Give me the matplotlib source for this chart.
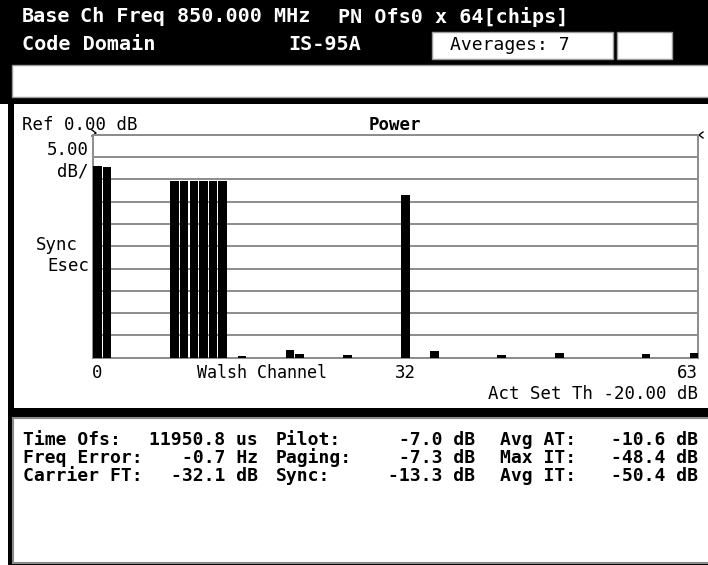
import matplotlib
matplotlib.use("Agg")
import matplotlib.pyplot as plt
from matplotlib.patches import Rectangle
import numpy as np

# ---- data ----
channels = [0, 1, 8, 9, 10, 11, 12, 13, 15, 20, 21, 26, 32, 35, 42, 48, 57, 62]
power_db = [-7.0, -7.3, -10.4, -10.4, -10.4, -10.4, -10.4, -10.4,
            -49.6, -48.3, -49.2, -49.5, -13.5, -48.5, -49.4, -48.9, -49.2, -48.9]
floor_db = -50.0
top_db = 0.0
db_per_div = 5.0
xtick_pos = [0, 32]
xtick_lbl = ["0", "32"]

header1 = ["Base", "Ch Freq 850.000 MHz", "PN Ofs0 x 64[chips]"]
header2 = ["Code Domain", "IS-95A"]
averages_txt = "Averages: 7"

rows_c1 = [("Time Ofs:", "11950.8 us"), ("Freq Error:", "-0.7 Hz"), ("Carrier FT:", "-32.1 dB")]
rows_c2 = [("Pilot:", "-7.0 dB"), ("Paging:", "-7.3 dB"), ("Sync:", "-13.3 dB")]
rows_c3 = [("Avg AT:", "-10.6 dB"), ("Max IT:", "-48.4 dB"), ("Avg IT:", "-50.4 dB")]

W, H = 708, 565
MONO = "DejaVu Sans Mono"

fig = plt.figure(figsize=(W / 100, H / 100), dpi=100)
fig.patch.set_facecolor("white")

bg = fig.add_axes([0, 0, 1, 1])
bg.set_xlim(0, W)
bg.set_ylim(H, 0)
bg.axis("off")

def rect(x0, y0, x1, y1, fc, ec="none", lw=0):
    bg.add_patch(Rectangle((x0, y0), x1 - x0, y1 - y0, facecolor=fc, edgecolor=ec, linewidth=lw))

# frame
rect(0, 0, W, 104, "black")
rect(8, 104, W, H, "black")
rect(12, 65, W + 2, 97, "white", "#9a9a9a", 1)
rect(14, 104, W + 2, 408, "white")
rect(13, 418, W + 2, 563, "white", "#8a8a8a", 1.5)
rect(432, 32, 613, 59, "white", "#9a9a9a", 1)
rect(617, 32, 672, 59, "white", "#9a9a9a", 1)

# header text
HFS = 14.5
bg.text(22, 17, header1[0], color="white", fontsize=HFS, fontweight="bold", family=MONO, va="center", ha="left")
bg.text(80, 17, header1[1], color="white", fontsize=HFS, fontweight="bold", family=MONO, va="center", ha="left")
bg.text(338, 17, header1[2], color="white", fontsize=HFS, fontweight="bold", family=MONO, va="center", ha="left")
bg.text(22, 45, header2[0], color="white", fontsize=HFS, fontweight="bold", family=MONO, va="center", ha="left")
bg.text(325, 45, header2[1], color="white", fontsize=HFS, fontweight="bold", family=MONO, va="center", ha="center")
bg.text(510, 45, averages_txt, color="black", fontsize=13, family=MONO, va="center", ha="center")

# chart panel text
CFS = 12.5
bg.text(22, 125, "Ref 0.00 dB", color="black", fontsize=CFS, family=MONO, va="center", ha="left")
bg.text(395, 125, "Power", color="black", fontsize=CFS, fontweight="bold", family=MONO, va="center", ha="center")
bg.text(89, 150, "5.00", color="black", fontsize=CFS, family=MONO, va="center", ha="right")
bg.text(89, 171, "dB/", color="black", fontsize=CFS, family=MONO, va="center", ha="right")
bg.text(78, 245, "Sync", color="black", fontsize=CFS, family=MONO, va="center", ha="right")
bg.text(89, 266, "Esec", color="black", fontsize=CFS, family=MONO, va="center", ha="right")
bg.text(262, 373, "Walsh Channel", color="black", fontsize=12, family=MONO, va="center", ha="center")
bg.text(698, 373, "63", color="black", fontsize=CFS, family=MONO, va="center", ha="right")
bg.text(698, 394, "Act Set Th -20.00 dB", color="black", fontsize=CFS, family=MONO, va="center", ha="right")
# reference-level carets
bg.plot([92, 96, 92], [130, 133, 136], color="black", lw=1)
bg.plot([703, 699, 703], [132, 135, 138], color="black", lw=1)

# bottom panel text
BFS = 13
row_y = [440, 458, 476]
for (lab, val), y in zip(rows_c1, row_y):
    bg.text(23, y, lab, color="black", fontsize=BFS, fontweight="bold", family=MONO, va="center", ha="left")
    bg.text(258, y, val, color="black", fontsize=BFS, fontweight="bold", family=MONO, va="center", ha="right")
for (lab, val), y in zip(rows_c2, row_y):
    bg.text(276, y, lab, color="black", fontsize=BFS, fontweight="bold", family=MONO, va="center", ha="left")
    bg.text(475, y, val, color="black", fontsize=BFS, fontweight="bold", family=MONO, va="center", ha="right")
for (lab, val), y in zip(rows_c3, row_y):
    bg.text(500, y, lab, color="black", fontsize=BFS, fontweight="bold", family=MONO, va="center", ha="left")
    bg.text(698, y, val, color="black", fontsize=BFS, fontweight="bold", family=MONO, va="center", ha="right")

# ---- chart ----
px_l, px_r, px_t, px_b = 93, 698, 135, 357.5
ax = fig.add_axes([px_l / W, (H - px_b) / H, (px_r - px_l) / W, (px_b - px_t) / H])
ax.set_facecolor("white")
ax.set_xlim(-0.47, 62.4)
ax.set_ylim(floor_db, top_db)
ax.set_yticks(np.arange(floor_db, top_db + 0.1, db_per_div))
ax.yaxis.grid(True, color="#8c8c8c", linewidth=1.4)
ax.set_axisbelow(True)
ax.set_yticklabels([])
ax.tick_params(axis="y", length=0)
ax.set_xticks(xtick_pos)
ax.set_xticklabels([])
ax.tick_params(axis="x", length=0)
for s in ax.spines.values():
    s.set_color("#8c8c8c")
    s.set_linewidth(1.4)

heights = np.array(power_db) - floor_db
ax.bar(channels, heights, bottom=floor_db, width=0.88, color="black", zorder=3)

for xp, lbl in zip(xtick_pos, xtick_lbl):
    ax.annotate(lbl, xy=(xp, 0), xycoords=("data", "axes fraction"), xytext=(0, -15.5),
                textcoords="offset pixels", ha="center", va="center",
                fontsize=CFS, family=MONO, color="black")

fig.savefig("out.png", dpi=100, facecolor="white")
